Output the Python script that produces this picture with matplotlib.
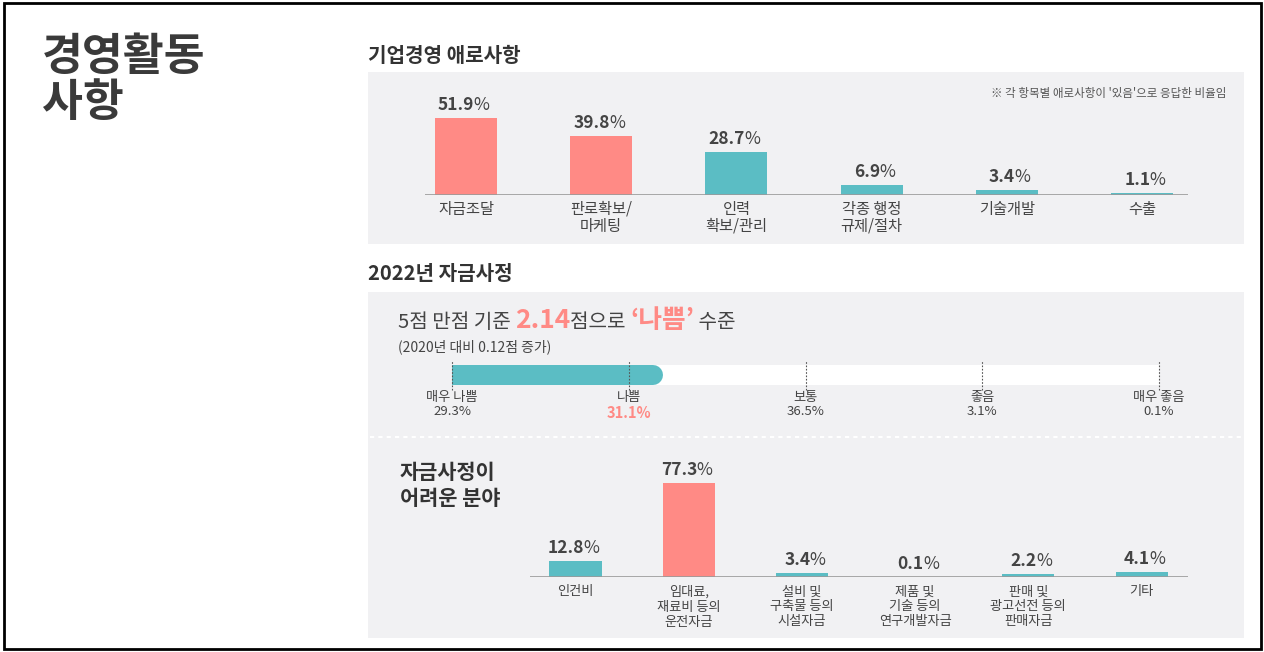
import matplotlib
matplotlib.use("Agg")
import matplotlib.pyplot as plt
from matplotlib.patches import Rectangle

plt.rcParams['font.family'] = ['Noto Sans CJK KR', 'DejaVu Sans']

# ---------------- data ----------------
c1_labels = ['자금조달', '판로확보/\n마케팅', '인력\n확보/관리', '각종 행정\n규제/절차', '기술개발', '수출']
c1_values = [51.9, 39.8, 28.7, 6.9, 3.4, 1.1]
c1_highlight = [True, True, False, False, False, False]

gauge_score = 2.14
gauge_labels = ['매우 나쁨', '나쁨', '보통', '좋음', '매우 좋음']
gauge_pcts = ['29.3%', '31.1%', '36.5%', '3.1%', '0.1%']
gauge_highlight = [False, True, False, False, False]

c2_labels = ['인건비', '임대료,\n재료비 등의\n운전자금', '설비 및\n구축물 등의\n시설자금',
             '제품 및\n기술 등의\n연구개발자금', '판매 및\n광고선전 등의\n판매자금', '기타']
c2_values = [12.8, 77.3, 3.4, 0.1, 2.2, 4.1]
c2_highlight = [False, True, False, False, False, False]

PINK = '#FF8A85'
TEAL = '#5BBDC4'
BG = '#F1F1F3'
DARK = '#333333'
MID = '#444444'

W, H = 1264, 652
fig = plt.figure(figsize=(W / 100, H / 100), dpi=100)
fig.patch.set_facecolor('white')


def fx(x):
    return x / W


def fy(y):
    return 1 - y / H


def ax_px(x0, y0, x1, y1):
    a = fig.add_axes([fx(x0), fy(y1), (x1 - x0) / W, (y1 - y0) / H])
    a.set_axis_off()
    a.patch.set_alpha(0)
    a.set_zorder(2)
    return a


# border
fig.add_artist(Rectangle((fx(4), fy(649)), (1261 - 4) / W, (649 - 3) / H,
                         transform=fig.transFigure, fill=False,
                         edgecolor='black', linewidth=2, zorder=0))
# gray panels
fig.add_artist(Rectangle((fx(368), fy(244)), (1244 - 368) / W, (244 - 72) / H,
                         transform=fig.transFigure, facecolor=BG, edgecolor='none', zorder=0))
fig.add_artist(Rectangle((fx(368), fy(638)), (1244 - 368) / W, (638 - 292) / H,
                         transform=fig.transFigure, facecolor=BG, edgecolor='none', zorder=0))

# titles
fig.text(fx(42), fy(34), '경영활동\n사항', fontsize=32, fontweight='heavy', color='#3a3a3a',
         va='top', ha='left', linespacing=1.0)
fig.text(fx(368), fy(56), '기업경영 애로사항', fontsize=14.5, fontweight='bold', color=DARK,
         va='center', ha='left')
fig.text(fx(368), fy(274), '2022년 자금사정', fontsize=14.5, fontweight='bold', color=DARK,
         va='center', ha='left')
fig.text(fx(1226), fy(93), "※ 각 항목별 애로사항이 '있음'으로 응답한 비율임", fontsize=8.3,
         color='#555555', va='center', ha='right')


def bar_chart(ax, labels, values, highlight, width, val_pts, lab_pts, lab_ls, lab_off):
    xs = list(range(len(values)))
    colors = [PINK if h else TEAL for h in highlight]
    ax.bar(xs, values, width=width, color=colors, zorder=2)
    ax.axhline(0, color='#9a9a9a', linewidth=1.2, zorder=3)
    for x, v, lab in zip(xs, values, labels):
        ax.annotate(f'{v}', (x, v), xytext=(6, 3), textcoords='offset points',
                    ha='right', va='bottom', fontsize=val_pts, fontweight='bold', color=MID)
        ax.annotate('%', (x, v), xytext=(5.6, 3), textcoords='offset points',
                    ha='left', va='bottom', fontsize=val_pts, color=MID)
        ax.annotate(lab, (x, 0), xytext=(0, lab_off), textcoords='offset points',
                    ha='center', va='top', fontsize=lab_pts, color=MID, linespacing=lab_ls)


# chart 1
ax1 = ax_px(425, 100, 1188, 195)
ax1.set_xlim(-0.303, 5.34)
ax1.set_ylim(0, (195 - 100) / 1.484)
bar_chart(ax1, c1_labels, c1_values, c1_highlight, 0.459, 12.5, 11, 1.0, -4)

# gauge headline (baseline aligned pieces)
BASE = 328
t1 = fig.text(fx(398), fy(BASE), '5점 만점 기준 ', fontsize=14.5, color=MID, va='baseline', ha='left')
fig.canvas.draw()
r = fig.canvas.get_renderer()


def after(t, s, **kw):
    bb = t.get_window_extent(renderer=r)
    return fig.text(bb.x1 / W, fy(BASE), s, va='baseline', ha='left', **kw)


t2 = after(t1, f'{gauge_score}', fontsize=19, fontweight='bold', color=PINK)
t3 = after(t2, '점으로 ', fontsize=14.5, color=MID)
t4 = after(t3, '‘나쁨’', fontsize=18.5, fontweight='bold', color=PINK)
t5 = after(t4, ' 수준', fontsize=14.5, color=MID)
fig.text(fx(398), fy(351), '(2020년 대비 0.12점 증가)', fontsize=10, color=MID,
         va='baseline', ha='left')

# gauge
axg = ax_px(452, 365, 1159, 385)
axg.set_xlim(1, 5)
axg.set_ylim(0, 1)
axg.barh(0.5, 4, left=1, height=1, color='white', zorder=1)
axg.barh(0.5, 0.5, left=1, height=1, color=TEAL, zorder=2)
axg.plot([1.3, gauge_score], [0.5, 0.5], color=TEAL, linewidth=20 * 0.72,
         solid_capstyle='round', zorder=2)
for i, (lab, pct, hl) in enumerate(zip(gauge_labels, gauge_pcts, gauge_highlight)):
    x = i + 1
    axg.axvline(x, ymin=-0.25, ymax=1.25, color='#555555', linewidth=0.8,
                linestyle=(0, (1.5, 1.5)), clip_on=False, zorder=3)
    axg.annotate(lab, (x, 0), xytext=(0, -4.5), textcoords='offset points',
                 ha='center', va='top', fontsize=9.5, color=MID)
    axg.annotate(pct, (x, 0), xytext=(0, -14.5), textcoords='offset points',
                 ha='center', va='top', fontsize=10.5 if hl else 9.5,
                 fontweight='bold' if hl else 'normal', color=PINK if hl else MID)

# separator
fig.add_artist(plt.Line2D([fx(370), fx(1242)], [fy(437), fy(437)], transform=fig.transFigure,
                          color='white', linewidth=1.5, linestyle=(0, (2, 2)), zorder=1))

fig.text(fx(400), fy(462), '자금사정이\n어려운 분야', fontsize=15, fontweight='bold', color=DARK,
         va='top', ha='left', linespacing=1.3)

# chart 2
ax2 = ax_px(530, 470, 1188, 577)
ax2.set_xlim(-0.402, 5.41)
ax2.set_ylim(0, (577 - 470) / 1.216)
bar_chart(ax2, c2_labels, c2_values, c2_highlight, 0.46, 12.5, 9.5, 1.2, -6)

fig.savefig('out.png', dpi=100, facecolor='white')
